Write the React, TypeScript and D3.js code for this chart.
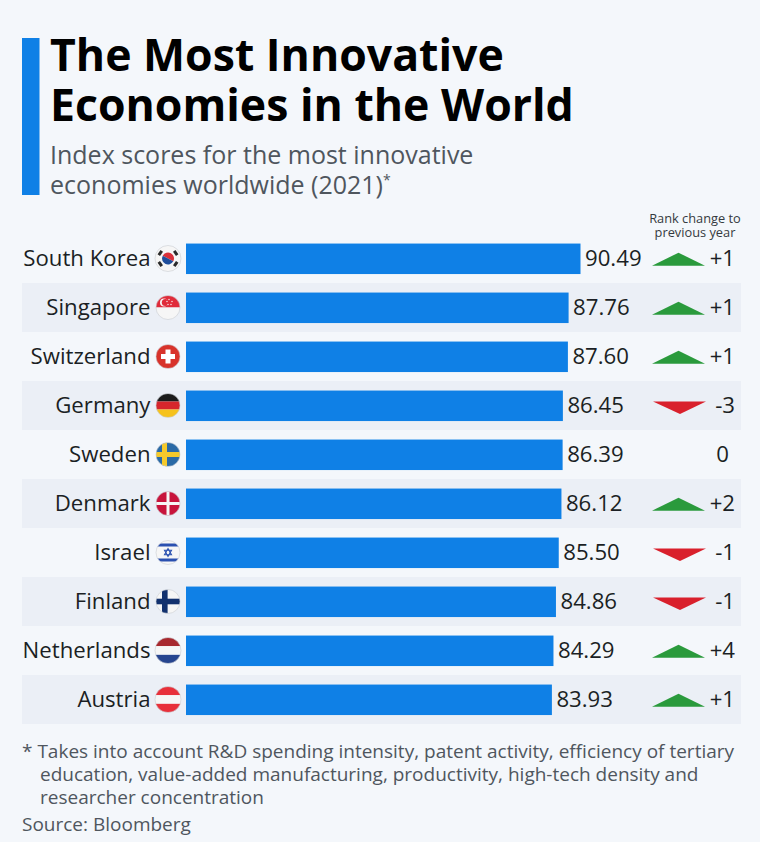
import React from "react";
import * as d3 from "d3";

const countries = ["South Korea", "Singapore", "Switzerland", "Germany", "Sweden", "Denmark", "Israel", "Finland", "Netherlands", "Austria"];
const flagCodes = ["kr", "sg", "ch", "de", "se", "dk", "il", "fi", "nl", "at"];
const flagRadii = [13, 12, 12, 12, 12, 12, 12, 12, 13, 13];
const scores = [90.49, 87.76, 87.6, 86.45, 86.39, 86.12, 85.5, 84.86, 84.29, 83.93];
const rankChanges = [1, 1, 1, -3, 0, 2, -1, -1, 4, 1];
const titleLines = ["The Most Innovative", "Economies in the World"];
const subtitleLines = ["Index scores for the most innovative", "economies worldwide (2021)"];
const noteLines = [
  "* Takes into account R&D spending intensity, patent activity, efficiency of tertiary",
  "education, value-added manufacturing, productivity, high-tech density and",
  "researcher concentration",
];

const FONT = "'Open Sans', 'Noto Sans', sans-serif";
const BLUE = "#0f80e6";
const W = 760;
const H = 842;
const BAR_X0 = 186;

const x = d3.scaleLinear().domain([0, 90.49]).range([BAR_X0, 580.5]);
const band = d3.scaleBand<string>().domain(countries).range([234, 724]).paddingInner(0).paddingOuter(0);

function Flag({ code, cx, cy, r, id }: { code: string; cx: number; cy: number; r: number; id: string }) {
  const L = cx - r, T = cy - r, S = 2 * r;
  const rect = (xx: number, yy: number, w: number, h: number, fill: string, k?: string) => (
    <rect key={k ?? `${xx}-${yy}-${w}-${h}`} x={xx} y={yy} width={w} height={h} fill={fill} />
  );
  let body: React.ReactNode = null;
  if (code === "kr") {
    const taeg = d3.arc()({ innerRadius: 0, outerRadius: r * 0.46, startAngle: -Math.PI / 2 + 0.5, endAngle: Math.PI / 2 + 0.5 }) as string;
    const taeg2 = d3.arc()({ innerRadius: 0, outerRadius: r * 0.46, startAngle: Math.PI / 2 + 0.5, endAngle: (3 * Math.PI) / 2 + 0.5 }) as string;
    body = (
      <g>
        {rect(L, T, S, S, "#f6f6f6")}
        <path d={taeg} transform={`translate(${cx},${cy})`} fill="#d9303a" />
        <path d={taeg2} transform={`translate(${cx},${cy})`} fill="#1f4e9c" />
        {[55, 125, 235, 305].map((a) => (
          <rect key={a} x={-2.6} y={-r * 0.84} width={5.2} height={3} fill="#2b2b2b"
            transform={`translate(${cx},${cy}) rotate(${a})`} />
        ))}
      </g>
    );
  } else if (code === "sg") {
    body = (
      <g>
        {rect(L, T, S, r, "#e02b3a")}
        {rect(L, cy, S, r, "#f6f6f6")}
        <circle cx={cx - 4} cy={cy - 5} r={4} fill="#f6f6f6" />
        <circle cx={cx - 2.6} cy={cy - 5} r={3.6} fill="#e02b3a" />
        {[[0, -8], [3, -6], [2, -3], [-1, -3], [-2, -6]].map(([dx, dy], i) => (
          <circle key={i} cx={cx + dx + 1} cy={cy + dy} r={0.7} fill="#f6f6f6" />
        ))}
      </g>
    );
  } else if (code === "ch") {
    body = (
      <g>
        {rect(L, T, S, S, "#d8332b")}
        {rect(cx - 7, cy - 2.5, 14, 5, "#fff")}
        {rect(cx - 2.5, cy - 7, 5, 14, "#fff")}
      </g>
    );
  } else if (code === "de") {
    body = (
      <g>
        {rect(L, T, S, S / 3, "#1b1b1b")}
        {rect(L, T + S / 3, S, S / 3, "#d6262c")}
        {rect(L, T + (2 * S) / 3, S, S / 3, "#f6c21c")}
      </g>
    );
  } else if (code === "se") {
    body = (
      <g>
        {rect(L, T, S, S, "#2a6aa6")}
        {rect(L, cy - 2.5, S, 5, "#f4c92b")}
        {rect(cx - 6, T, 5, S, "#f4c92b")}
      </g>
    );
  } else if (code === "dk") {
    body = (
      <g>
        {rect(L, T, S, S, "#c8143c")}
        {rect(L, cy - 1.5, S, 3, "#f6f6f6")}
        {rect(cx - 1.5, T, 3, S, "#f6f6f6")}
      </g>
    );
  } else if (code === "il") {
    const tri = (dir: number) =>
      d3.line()([[cx, cy - 4 * dir], [cx + 3.5, cy + 2.2 * dir], [cx - 3.5, cy + 2.2 * dir]])! + "Z";
    body = (
      <g>
        {rect(L, T, S, S, "#f6f6f6")}
        {rect(L, T + 3, S, 3, "#2a50b0")}
        {rect(L, cy + r - 6, S, 3, "#2a50b0")}
        <path d={tri(1)} fill="none" stroke="#2a50b0" strokeWidth={1.1} />
        <path d={tri(-1)} fill="none" stroke="#2a50b0" strokeWidth={1.1} />
      </g>
    );
  } else if (code === "fi") {
    body = (
      <g>
        {rect(L, T, S, S, "#f6f6f6")}
        {rect(L, cy - 2.8, S, 5.6, "#12316e")}
        {rect(cx - 6, T, 5.6, S, "#12316e")}
      </g>
    );
  } else if (code === "nl") {
    body = (
      <g>
        {rect(L, T, S, S / 3, "#a8282e")}
        {rect(L, T + S / 3, S, S / 3, "#f6f6f6")}
        {rect(L, T + (2 * S) / 3, S, S / 3, "#27458f")}
      </g>
    );
  } else if (code === "at") {
    body = (
      <g>
        {rect(L, T, S, S / 3, "#e8303a")}
        {rect(L, T + S / 3, S, S / 3, "#f6f6f6")}
        {rect(L, T + (2 * S) / 3, S, S / 3, "#e8303a")}
      </g>
    );
  }
  return (
    <g>
      <clipPath id={id}><circle cx={cx} cy={cy} r={r} /></clipPath>
      <g clipPath={`url(#${id})`}>{body}</g>
      <circle cx={cx} cy={cy} r={r} fill="none" stroke="#c9ccd2" strokeWidth={0.6} />
    </g>
  );
}

export default function App() {
  const rowH = band.bandwidth();
  const barH = 30.5;
  return (
    <svg width={W} height={H} viewBox={`0 0 ${W} ${H}`}
      style={{ position: "absolute", left: 0, top: 0, background: "#f4f7fb", fontFamily: FONT }}>
      <rect x={22} y={38} width={17.5} height={157} fill={BLUE} />
      {titleLines.map((t, i) => (
        <text key={t} x={50} y={71 + i * 50} fontSize={44.6} fontWeight={700} fill="#000">{t}</text>
      ))}
      {subtitleLines.map((t, i) => (
        <text key={t} x={50} y={164 + i * 30} fontSize={25} fill="#4f565e">
          {t}
          {i === 1 && <tspan fontSize={14} dy={-9}>*</tspan>}
        </text>
      ))}
      <text textAnchor="middle" fontSize={12.8} fill="#343a40">
        <tspan x={695} y={223}>Rank change to</tspan>
        <tspan x={695} y={237}>previous year</tspan>
      </text>
      {countries.map((c, i) => {
        const y0 = band(c)!;
        const cy = y0 + rowH / 2;
        const ch = rankChanges[i];
        const v = scores[i];
        return (
          <g key={c}>
            {i % 2 === 1 && <rect x={22} y={y0} width={719} height={rowH} fill="#ebeff6" />}
            <text x={150.5} y={cy + 7.5} textAnchor="end" fontSize={22.2} fill="#1b1f24">{c}</text>
            <Flag code={flagCodes[i]} cx={168} cy={cy} r={flagRadii[i]} id={`flag-${flagCodes[i]}`} />
            <rect x={BAR_X0} y={cy - barH / 2 + 0.3} width={x(v) - BAR_X0} height={barH} fill={BLUE} />
            <text x={x(v) + 4.5} y={cy + 7.5} fontSize={22.2} fill="#1b1f24">{v.toFixed(2)}</text>
            {ch > 0 && (
              <path d={d3.line()([[652, cy + 7.2], [678.5, cy - 5.8], [705, cy + 7.2]])! + "Z"} fill="#2a9a3c" />
            )}
            {ch < 0 && (
              <path d={d3.line()([[653, cy - 4], [706, cy - 4], [680, cy + 8.5]])! + "Z"} fill="#d9202c" />
            )}
            <text x={735} y={cy + 7.5} textAnchor="end" fontSize={22.2} fill="#1b1f24"
              dx={ch === 0 ? -6 : 0}>
              {ch > 0 ? `+${ch}` : `${ch}`}
            </text>
          </g>
        );
      })}
      {noteLines.map((t, i) => (
        <text key={t} x={i === 0 ? 22 : 40} y={758 + i * 23} fontSize={19} fill="#4f565e">{t}</text>
      ))}
      <text x={22} y={831} fontSize={19} fill="#4f565e">Source: Bloomberg</text>
    </svg>
  );
}
